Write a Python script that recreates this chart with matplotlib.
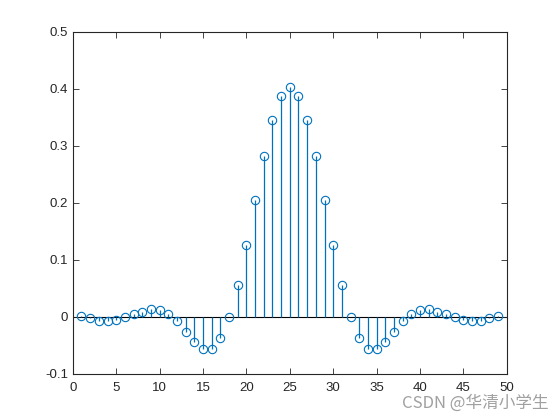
import matplotlib
matplotlib.use("Agg")
import matplotlib.pyplot as plt

# sample index and filter response (symmetric about n = 25)
n = list(range(1, 50))
half = [0.001, -0.003, -0.007, -0.008, -0.006, 0.0, 0.005, 0.009, 0.013,
        0.012, 0.005, -0.008, -0.027, -0.045, -0.057, -0.057, -0.038, -0.001,
        0.055, 0.126, 0.204, 0.281, 0.345, 0.387]
peak = [0.402]
h = half + peak + half[::-1]

x_ticks = [0, 5, 10, 15, 20, 25, 30, 35, 40, 45, 50]
y_ticks = [-0.1, 0, 0.1, 0.2, 0.3, 0.4, 0.5]
y_labels = ["-0.1", "0", "0.1", "0.2", "0.3", "0.4", "0.5"]

plt.rcParams["font.family"] = ["Liberation Sans", "DejaVu Sans"]

fig = plt.figure(figsize=(5.6, 4.2), dpi=100)
ax = fig.add_axes([0.13, 0.11, 0.775, 0.815])

blue = "#0072BD"
ax.axhline(0, color="black", linewidth=0.8, zorder=1)
markerline, stemlines, baseline = ax.stem(n, h, basefmt=" ")
plt.setp(stemlines, color=blue, linewidth=0.9)
plt.setp(markerline, color=blue, marker="o", markersize=6,
         markerfacecolor="none", markeredgewidth=0.8)

ax.set_xlim(0, 50)
ax.set_ylim(-0.1, 0.5)
ax.set_xticks(x_ticks)
ax.set_yticks(y_ticks)
ax.set_yticklabels(y_labels)
ax.tick_params(direction="in", top=True, right=True, labelsize=9.5,
               length=4, width=0.6, colors="#262626")
ax.tick_params(axis="x", pad=6)
for side in ax.spines.values():
    side.set_linewidth(0.8)
    side.set_color("#262626")

fig.text(0.98, 0.02, "CSDN @华清小学生", ha="right", va="bottom",
         fontsize=12, color="#a0a0a0",
         family=["Noto Sans CJK SC", "DejaVu Sans"])

fig.savefig("out.png", dpi=100)
